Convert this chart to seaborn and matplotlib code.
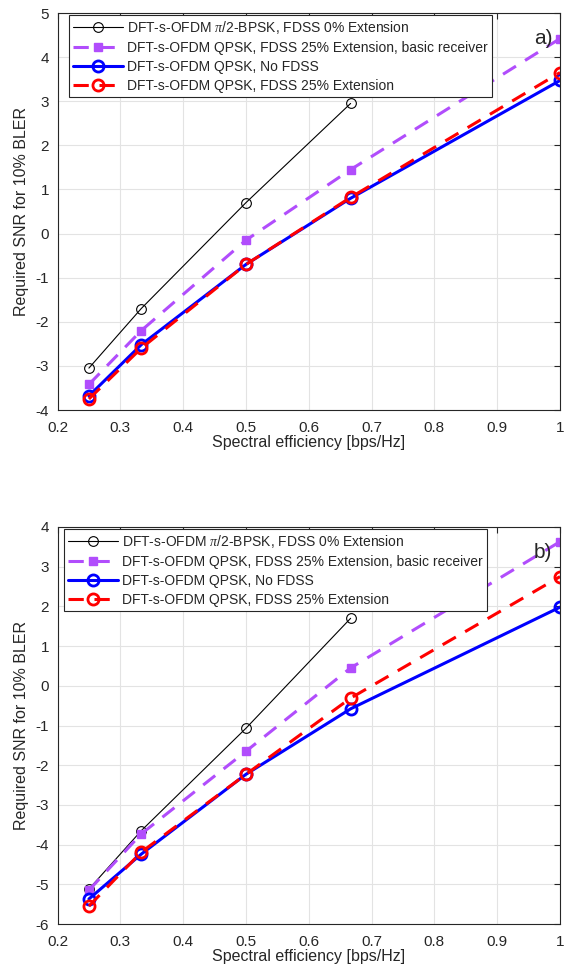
import matplotlib
matplotlib.use("Agg")
import matplotlib.pyplot as plt
import seaborn as sns

sns.set_style("whitegrid")
plt.rcParams['font.family'] = ['Liberation Sans', 'DejaVu Sans']
plt.rcParams['mathtext.fontset'] = 'custom'
plt.rcParams['mathtext.it'] = 'Liberation Serif:italic'

x4 = [0.25, 1/3, 0.5, 2/3]
x5 = [0.25, 1/3, 0.5, 2/3, 1.0]

labels = [r"DFT-s-OFDM $\pi$/2-BPSK, FDSS 0% Extension",
          "DFT-s-OFDM QPSK, FDSS 25% Extension, basic receiver",
          "DFT-s-OFDM QPSK, No FDSS",
          "DFT-s-OFDM QPSK, FDSS 25% Extension"]

a_bpsk = [-3.05, -1.70, 0.70, 2.95]
a_basic = [-3.42, -2.20, -0.15, 1.45, 4.42]
a_nofdss = [-3.68, -2.52, -0.70, 0.80, 3.47]
a_fdss = [-3.75, -2.60, -0.70, 0.82, 3.65]

b_bpsk = [-5.12, -3.65, -1.07, 1.70]
b_basic = [-5.15, -3.73, -1.65, 0.45, 3.63]
b_nofdss = [-5.37, -4.24, -2.23, -0.58, 1.98]
b_fdss = [-5.55, -4.19, -2.23, -0.31, 2.75]

purple = '#b14dfc'

fig = plt.figure(figsize=(5.67, 9.73), dpi=100)
ax1 = fig.add_axes([57.5/567, 1 - 410/973, 502.5/567, 397/973])
ax2 = fig.add_axes([57.5/567, 1 - 924/973, 502.5/567, 397/973])

def draw(ax, bpsk, basic, nofdss, fdss, ylim, yticks, tag, legpos):
    sns.lineplot(x=x4, y=bpsk, ax=ax, color='black', lw=0.8, marker='o', ms=7,
                 mfc='none', mec='black', mew=0.8, label=labels[0])
    sns.lineplot(x=x5, y=basic, ax=ax, color=purple, lw=2.2, marker='s', ms=5.5,
                 mfc=purple, mec=purple, mew=1, label=labels[1])
    ax.lines[-1].set_dashes([5, 3.5])
    sns.lineplot(x=x5, y=nofdss, ax=ax, color='blue', lw=2.2, marker='o', ms=8,
                 mfc='none', mec='blue', mew=2, label=labels[2])
    sns.lineplot(x=x5, y=fdss, ax=ax, color='red', lw=2.2, marker='o', ms=8,
                 mfc='none', mec='red', mew=2, label=labels[3])
    ax.lines[-1].set_dashes([5, 3.5])
    ax.set_xlim(0.2, 1.0)
    ax.set_ylim(*ylim)
    ax.set_xticks([0.2, 0.3, 0.4, 0.5, 0.6, 0.7, 0.8, 0.9, 1.0])
    ax.set_xticklabels(['0.2', '0.3', '0.4', '0.5', '0.6', '0.7', '0.8', '0.9', '1'])
    ax.set_yticks(yticks)
    ax.set_yticklabels([str(v) for v in yticks])
    ax.grid(True, color='#e3e3e3', lw=0.8)
    for s in ax.spines.values():
        s.set_color('#262626')
        s.set_linewidth(0.8)
    ax.tick_params(axis='both', direction='in', length=4, colors='#262626',
                   labelsize=11, top=True, right=True, labelcolor='#262626',
                   width=0.8)
    ax.tick_params(axis='x', pad=8)
    ax.tick_params(axis='y', pad=6)
    ax.set_xlabel('Spectral efficiency [bps/Hz]', fontsize=11.5, color='#262626', labelpad=0)
    ax.set_ylabel('Required SNR for 10% BLER', fontsize=11.5, color='#262626', labelpad=5)
    leg = ax.legend(loc='upper left', bbox_to_anchor=legpos, fontsize=10.0,
                    handlelength=3.6, handletextpad=0.3,
                    borderpad=0.3, labelspacing=0.35, fancybox=False, framealpha=1,
                    edgecolor='#262626', borderaxespad=0)
    leg.get_frame().set_linewidth(0.8)
    ax.text(0.985, 0.935, tag, transform=ax.transAxes, fontsize=15, ha='right', va='center')

draw(ax1, a_bpsk, a_basic, a_nofdss, a_fdss, (-4, 5), list(range(-4, 6)), 'a)', (0.022, 0.995))
draw(ax2, b_bpsk, b_basic, b_nofdss, b_fdss, (-6, 4), list(range(-6, 5)), 'b)', (0.012, 0.995))

fig.savefig('out.png', dpi=100)
